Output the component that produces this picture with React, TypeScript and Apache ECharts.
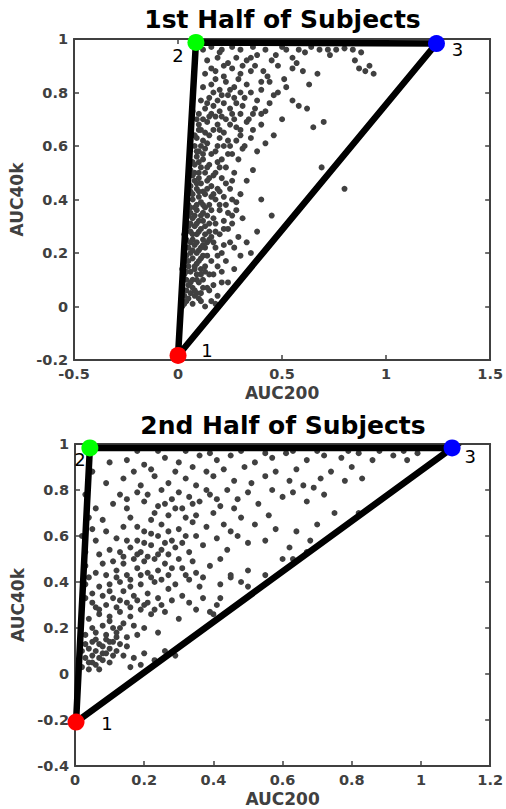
import React, { useEffect, useRef } from "react";
import * as echarts from "echarts";

const titles = ["1st Half of Subjects", "2nd Half of Subjects"];
const xName = "AUC200";
const yName = "AUC40k";
const vertexLabels = ["1", "2", "3"];
const vertexColors = ["#ff0000", "#00ff00", "#0000ff"];
const vertices1 = [[0, -0.183], [0.086, 0.987], [1.242, 0.983]];
const vertices2 = [[0.003, -0.209], [0.043, 0.983], [1.09, 0.983]];

const points1 = [
  [0.02,0.0],[0.04,0.02],[0.07,0.01],[0.1,0.03],[0.13,0.0],[0.16,0.02],[0.03,0.04],[0.06,0.05],[0.11,0.05],[0.19,0.04],
  [0.02,0.07],[0.05,0.08],[0.08,0.06],[0.1,0.09],[0.14,0.07],[0.17,0.08],[0.24,0.09],[0.04,0.1],[0.07,0.1],[0.12,0.1],
  [0.03,0.12],[0.06,0.13],[0.09,0.12],[0.11,0.14],[0.15,0.12],[0.21,0.13],[0.27,0.14],[0.05,0.15],[0.08,0.15],[0.13,0.15],[0.02,0.14],
  [0.04,0.17],[0.07,0.18],[0.1,0.17],[0.12,0.19],[0.16,0.17],[0.19,0.19],[0.3,0.19],[0.35,0.2],[0.03,0.2],[0.06,0.2],[0.09,0.2],
  [0.05,0.22],[0.08,0.23],[0.11,0.22],[0.14,0.24],[0.18,0.22],[0.22,0.23],[0.27,0.22],[0.33,0.24],[0.04,0.25],[0.07,0.25],[0.12,0.25],[0.16,0.26],
  [0.03,0.27],[0.06,0.28],[0.09,0.27],[0.11,0.29],[0.15,0.28],[0.2,0.27],[0.24,0.29],[0.38,0.28],[0.05,0.3],[0.08,0.3],[0.13,0.3],[0.18,0.31],
  [0.04,0.32],[0.07,0.33],[0.1,0.32],[0.14,0.34],[0.17,0.33],[0.22,0.32],[0.26,0.34],[0.31,0.33],[0.45,0.34],[0.06,0.35],[0.09,0.36],[0.12,0.35],[0.2,0.36],
  [0.05,0.38],[0.08,0.37],[0.11,0.39],[0.15,0.38],[0.18,0.4],[0.23,0.38],[0.28,0.39],[0.4,0.4],[0.07,0.4],[0.1,0.41],[0.13,0.42],
  [0.06,0.43],[0.09,0.44],[0.12,0.43],[0.16,0.45],[0.2,0.43],[0.25,0.44],[0.3,0.42],[0.8,0.44],[0.05,0.46],[0.08,0.47],[0.14,0.47],
  [0.07,0.49],[0.1,0.48],[0.13,0.5],[0.17,0.49],[0.21,0.48],[0.27,0.5],[0.33,0.47],[0.36,0.51],[0.11,0.52],[0.06,0.51],
  [0.08,0.53],[0.12,0.55],[0.15,0.53],[0.19,0.54],[0.23,0.52],[0.29,0.55],[0.69,0.52],[0.09,0.56],[0.16,0.57],
  [0.1,0.58],[0.13,0.59],[0.18,0.58],[0.22,0.6],[0.26,0.57],[0.31,0.59],[0.38,0.58],[0.42,0.61],[0.08,0.6],
  [0.09,0.63],[0.12,0.62],[0.15,0.64],[0.2,0.63],[0.24,0.62],[0.3,0.64],[0.35,0.63],[0.46,0.64],[0.11,0.66],[0.17,0.66],
  [0.1,0.68],[0.14,0.69],[0.19,0.68],[0.23,0.7],[0.28,0.67],[0.33,0.69],[0.4,0.68],[0.5,0.7],[0.65,0.67],[0.7,0.69],
  [0.07,0.73],[0.1,0.72],[0.13,0.74],[0.16,0.72],[0.2,0.73],[0.25,0.74],[0.3,0.72],[0.37,0.74],[0.42,0.73],[0.58,0.75],[0.62,0.74],
  [0.11,0.77],[0.15,0.78],[0.19,0.77],[0.24,0.79],[0.28,0.76],[0.32,0.78],[0.38,0.77],[0.46,0.79],[0.55,0.77],
  [0.12,0.82],[0.16,0.83],[0.2,0.81],[0.23,0.84],[0.27,0.82],[0.33,0.83],[0.4,0.81],[0.44,0.84],[0.52,0.82],[0.63,0.83],
  [0.13,0.87],[0.18,0.88],[0.22,0.86],[0.26,0.89],[0.3,0.87],[0.35,0.88],[0.43,0.86],[0.48,0.9],[0.6,0.88],[0.67,0.87],[0.87,0.89],[0.9,0.88],[0.94,0.87],
  [0.14,0.92],[0.19,0.93],[0.24,0.91],[0.28,0.93],[0.33,0.92],[0.38,0.94],[0.45,0.92],[0.55,0.93],[0.61,0.95],[0.73,0.94],[0.85,0.92],[0.88,0.95],[0.92,0.9],
  [0.12,0.96],[0.16,0.97],[0.21,0.96],[0.26,0.97],[0.3,0.96],[0.36,0.97],[0.42,0.96],[0.5,0.97],[0.58,0.96],[0.64,0.97],[0.76,0.96],[0.8,0.965],[0.84,0.96],
  [0.03,0.01],[0.05,0.03],[0.08,0.04],[0.11,0.02],[0.04,0.06],[0.07,0.07],[0.09,0.05],[0.12,0.07],[0.06,0.09],[0.09,0.1],[0.11,0.12],[0.04,0.13],[0.08,0.14],[0.13,0.13],
  [0.05,0.17],[0.09,0.16],[0.11,0.18],[0.14,0.19],[0.04,0.19],[0.07,0.21],[0.1,0.21],[0.13,0.22],[0.06,0.24],[0.09,0.24],[0.12,0.23],[0.15,0.25],
  [0.04,0.28],[0.07,0.27],[0.1,0.28],[0.13,0.27],[0.06,0.31],[0.09,0.31],[0.12,0.32],[0.15,0.31],[0.05,0.34],[0.08,0.34],[0.11,0.34],[0.13,0.37],
  [0.06,0.37],[0.09,0.38],[0.12,0.38],[0.16,0.41],[0.07,0.42],[0.1,0.43],[0.14,0.44],[0.06,0.45],[0.09,0.46],[0.11,0.46],[0.15,0.48],[0.08,0.5],
  [0.1,0.5],[0.14,0.52],[0.07,0.54],[0.1,0.54],[0.12,0.57],[0.09,0.58],[0.11,0.6],[0.14,0.61],[0.08,0.64],[0.13,0.65],[0.1,0.66],[0.12,0.7],
  [0.09,0.7],[0.15,0.71],[0.18,0.71],[0.21,0.71],[0.14,0.76],[0.17,0.75],[0.22,0.76],[0.26,0.72],[0.17,0.8],[0.21,0.79],[0.25,0.81],[0.18,0.85],[0.22,0.9],[0.3,0.8],
  [0.18,0.5],[0.21,0.55],[0.25,0.6],[0.28,0.62],[0.32,0.6],[0.36,0.66],[0.4,0.72],[0.44,0.76],[0.48,0.8],[0.51,0.85],[0.55,0.89],[0.34,0.7],[0.27,0.7],[0.22,0.65],
  [0.19,0.6],[0.24,0.57],[0.2,0.52],[0.26,0.47],[0.23,0.46],[0.19,0.44],[0.17,0.42],[0.22,0.41],[0.26,0.4],[0.2,0.38],[0.16,0.36],[0.24,0.35],[0.28,0.36],
  [0.18,0.28],[0.22,0.29],[0.26,0.31],[0.17,0.24],[0.21,0.2],[0.25,0.24],[0.29,0.26],[0.19,0.15],[0.23,0.17],[0.17,0.12],[0.21,0.09],[0.15,0.06],[0.18,0.01],
  [0.31,0.75],[0.35,0.8],[0.29,0.85],[0.37,0.9],[0.41,0.88],[0.47,0.94],[0.52,0.96],[0.68,0.96],[0.72,0.96],[0.57,0.91],[0.16,0.89],[0.2,0.95],[0.35,0.93],
  [0.4,0.84],[0.31,0.9],[0.27,0.78],[0.36,0.72],[0.3,0.66],[0.25,0.68],[0.2,0.66]
];

const points2 = [
  [0.02,0.03],[0.04,0.05],[0.06,0.04],[0.08,0.06],[0.1,0.05],[0.03,0.07],[0.05,0.08],[0.07,0.07],[0.09,0.09],[0.11,0.08],
  [0.02,0.1],[0.04,0.11],[0.06,0.1],[0.08,0.12],[0.1,0.11],[0.12,0.1],[0.03,0.13],[0.05,0.14],[0.07,0.13],[0.09,0.15],
  [0.11,0.14],[0.13,0.13],[0.15,0.12],[0.14,0.08],[0.17,0.07],[0.2,0.09],[0.23,0.06],[0.26,0.1],[0.29,0.08],[0.19,0.04],
  [0.16,0.03],[0.04,0.02],[0.07,0.02],[0.03,0.17],[0.06,0.18],[0.09,0.17],[0.12,0.18],[0.15,0.16],[0.18,0.17],[0.05,0.2],
  [0.08,0.21],[0.11,0.2],[0.14,0.22],[0.17,0.21],[0.2,0.2],[0.24,0.18],
  [0.04,0.24],[0.07,0.26],[0.1,0.25],[0.13,0.27],[0.16,0.25],[0.19,0.28],[0.22,0.26],[0.26,0.27],[0.3,0.24],[0.35,0.28],[0.4,0.26],[0.06,0.29],[0.09,0.3],[0.12,0.29],[0.15,0.31],[0.2,0.3],
  [0.03,0.33],[0.05,0.35],[0.08,0.34],[0.11,0.33],[0.14,0.36],[0.17,0.34],[0.21,0.35],[0.24,0.33],[0.27,0.37],[0.31,0.34],[0.36,0.38],[0.42,0.33],
  [0.07,0.38],[0.1,0.39],[0.13,0.4],[0.16,0.38],[0.19,0.39],[0.23,0.4],[0.29,0.39],[0.33,0.41],[0.48,0.4],[0.45,0.42],
  [0.04,0.42],[0.06,0.44],[0.09,0.43],[0.12,0.45],[0.15,0.43],[0.18,0.46],[0.21,0.44],[0.24,0.45],[0.27,0.43],[0.31,0.46],[0.35,0.44],[0.39,0.47],[0.5,0.45],[0.55,0.43],
  [0.08,0.48],[0.11,0.49],[0.14,0.48],[0.17,0.5],[0.2,0.49],[0.23,0.5],[0.26,0.48],[0.3,0.5],[0.34,0.49],[0.42,0.5],[0.6,0.5],
  [0.03,0.53],[0.07,0.52],[0.1,0.54],[0.13,0.53],[0.16,0.55],[0.19,0.53],[0.22,0.56],[0.25,0.54],[0.29,0.55],[0.33,0.53],[0.37,0.56],[0.44,0.54],[0.5,0.57],[0.62,0.55],[0.68,0.58],
  [0.06,0.58],[0.12,0.59],[0.18,0.58],[0.24,0.6],[0.28,0.58],[0.35,0.6],[0.41,0.59],[0.47,0.6],[0.55,0.58],
  [0.05,0.63],[0.09,0.62],[0.14,0.64],[0.2,0.62],[0.25,0.65],[0.3,0.63],[0.34,0.66],[0.38,0.64],[0.45,0.62],[0.52,0.65],[0.58,0.63],[0.64,0.62],[0.7,0.65],
  [0.08,0.67],[0.16,0.68],[0.22,0.67],[0.27,0.69],[0.32,0.68],[0.4,0.7],[0.48,0.68],[0.56,0.69],[0.75,0.7],[0.82,0.7],
  [0.06,0.72],[0.11,0.74],[0.15,0.72],[0.2,0.75],[0.24,0.73],[0.28,0.76],[0.31,0.72],[0.36,0.75],[0.42,0.73],[0.47,0.76],[0.53,0.74],[0.6,0.77],[0.67,0.75],[0.72,0.78],
  [0.13,0.78],[0.18,0.79],[0.25,0.8],[0.3,0.79],[0.39,0.78],[0.44,0.8],[0.5,0.79],[0.57,0.8],[0.63,0.79],[0.69,0.81],
  [0.09,0.83],[0.14,0.85],[0.19,0.82],[0.23,0.86],[0.27,0.83],[0.32,0.85],[0.35,0.82],[0.4,0.86],[0.46,0.84],[0.51,0.83],[0.55,0.86],[0.62,0.84],[0.66,0.82],[0.71,0.85],[0.78,0.84],[0.83,0.85],
  [0.17,0.88],[0.22,0.89],[0.29,0.88],[0.34,0.9],[0.38,0.88],[0.43,0.89],[0.49,0.9],[0.58,0.88],[0.64,0.89],[0.74,0.88],[0.8,0.9],
  [0.1,0.92],[0.15,0.93],[0.2,0.91],[0.26,0.94],[0.3,0.92],[0.36,0.95],[0.41,0.93],[0.45,0.95],[0.52,0.92],[0.57,0.94],[0.61,0.96],[0.67,0.93],[0.72,0.95],[0.77,0.94],[0.82,0.96],[0.86,0.93],[0.92,0.95],[0.96,0.93],
  [0.18,0.97],[0.24,0.97],[0.32,0.97],[0.39,0.96],[0.48,0.97],[0.55,0.96],[0.63,0.97],[0.7,0.97],[0.79,0.97],[0.88,0.97],[0.95,0.97],[0.99,0.96],
  [0.42,0.39],[0.45,0.43],[0.39,0.27],[0.41,0.3],[0.5,0.38],[0.63,0.5],[0.67,0.53],
  [0.1,0.36],[0.13,0.32],[0.16,0.29],[0.18,0.32],[0.21,0.31],[0.23,0.28],[0.25,0.3],[0.28,0.32],[0.33,0.31],[0.37,0.33],[0.12,0.42],[0.16,0.41],[0.19,0.43],
  [0.22,0.42],[0.25,0.41],[0.28,0.46],[0.32,0.43],[0.37,0.42],[0.14,0.51],[0.18,0.52],[0.21,0.51],[0.24,0.52],[0.27,0.52],[0.31,0.57],[0.26,0.57],[0.2,0.57],
  [0.15,0.58],[0.22,0.61],[0.27,0.62],[0.32,0.6],[0.18,0.64],[0.23,0.7],[0.29,0.72],[0.34,0.74],[0.38,0.8],[0.33,0.77],[0.26,0.74],[0.21,0.78],[0.15,0.76],
  [0.35,0.69],[0.43,0.65],[0.46,0.72],[0.41,0.76],[0.06,0.15],[0.08,0.09],[0.05,0.05],[0.1,0.14],[0.12,0.16],[0.13,0.2],[0.1,0.23],[0.07,0.28],[0.05,0.31],
  [0.03,0.39],[0.03,0.47],[0.02,0.6],[0.04,0.68],[0.03,0.78],[0.05,0.88]
];

const FONT = "DejaVu Sans";
const AXIS_COLOR = "#404040";

function makeOption() {
  const grids = [
    { left: 74, top: 39, width: 417, height: 321 },
    { left: 75, top: 444, width: 416, height: 322 },
  ];
  const xRanges = [
    { min: -0.5, max: 1.5, interval: 0.5 },
    { min: 0, max: 1.2, interval: 0.2 },
  ];
  const yRanges = [
    { min: -0.2, max: 1, interval: 0.2 },
    { min: -0.4, max: 1, interval: 0.2 },
  ];
  const lineStyle = { color: AXIS_COLOR, width: 2 };
  const tick = { show: true, inside: true, length: 5, lineStyle: { color: AXIS_COLOR, width: 1.5 } };
  const label = { color: AXIS_COLOR, fontFamily: FONT, fontWeight: "bold", fontSize: 14.5, margin: 6 };
  const nameStyle = { color: AXIS_COLOR, fontFamily: FONT, fontWeight: "bold", fontSize: 17 };

  const xAxis: any[] = [];
  const yAxis: any[] = [];
  [0, 1].forEach((g) => {
    xAxis.push({
      type: "value", gridIndex: g, position: "bottom", ...xRanges[g],
      name: xName, nameLocation: "middle", nameGap: 24, nameTextStyle: nameStyle,
      axisLine: { show: true, onZero: false, lineStyle }, axisTick: tick, axisLabel: label,
      splitLine: { show: false },
    });
    xAxis.push({
      type: "value", gridIndex: g, position: "top", ...xRanges[g],
      axisLine: { show: true, onZero: false, lineStyle }, axisTick: tick, axisLabel: { show: false },
      splitLine: { show: false },
    });
    yAxis.push({
      type: "value", gridIndex: g, position: "left", ...yRanges[g],
      name: yName, nameLocation: "middle", nameGap: 37, nameTextStyle: nameStyle,
      axisLine: { show: true, onZero: false, lineStyle }, axisTick: tick, axisLabel: label,
      splitLine: { show: false },
    });
    yAxis.push({
      type: "value", gridIndex: g, position: "right", ...yRanges[g],
      axisLine: { show: true, onZero: false, lineStyle }, axisTick: tick, axisLabel: { show: false },
      splitLine: { show: false },
    });
  });

  const labelOffsets = [
    [[29, -5], [-18, 13], [21, 6]],
    [[31, 1], [-10, 12], [18, 9]],
  ];
  const verts = [vertices1, vertices2];
  const pts = [points1, points2];
  const series: any[] = [];
  [0, 1].forEach((g) => {
    series.push({
      type: "scatter", xAxisIndex: g * 2, yAxisIndex: g * 2, data: pts[g],
      symbolSize: 6, itemStyle: { color: "#404040", opacity: 1 }, z: 2, silent: true,
    });
    const v = verts[g];
    series.push({
      type: "line", xAxisIndex: g * 2, yAxisIndex: g * 2,
      data: [v[0], v[1], v[2], v[0]], symbol: "none",
      lineStyle: { color: "#000", width: 6.5, join: "miter" }, z: 3, silent: true,
    });
    series.push({
      type: "scatter", xAxisIndex: g * 2, yAxisIndex: g * 2, z: 4, symbolSize: 17,
      data: v.map((p, i) => ({
        value: p,
        itemStyle: { color: vertexColors[i], opacity: 1 },
        label: {
          show: true, formatter: vertexLabels[i], position: "inside", offset: labelOffsets[g][i],
          color: "#000", fontFamily: FONT, fontSize: 18,
        },
      })),
    });
  });

  return {
    animation: false,
    backgroundColor: "#ffffff",
    title: [
      { text: titles[0], left: 282.5, top: 7, textAlign: "center", padding: 0,
        textStyle: { fontFamily: FONT, fontWeight: "bold", fontSize: 25, color: "#000" } },
      { text: titles[1], left: 283, top: 413, textAlign: "center", padding: 0,
        textStyle: { fontFamily: FONT, fontWeight: "bold", fontSize: 25, color: "#000" } },
    ],
    grid: grids,
    xAxis,
    yAxis,
    series,
  };
}

export default function App() {
  const ref = useRef<HTMLDivElement>(null);
  useEffect(() => {
    if (!ref.current) return;
    const chart = echarts.init(ref.current, undefined, { renderer: "svg" });
    chart.setOption(makeOption() as any);
    return () => chart.dispose();
  }, []);
  return (
    <div
      ref={ref}
      style={{ position: "fixed", left: 0, top: 0, width: 506, height: 809, background: "#fff" }}
    />
  );
}
